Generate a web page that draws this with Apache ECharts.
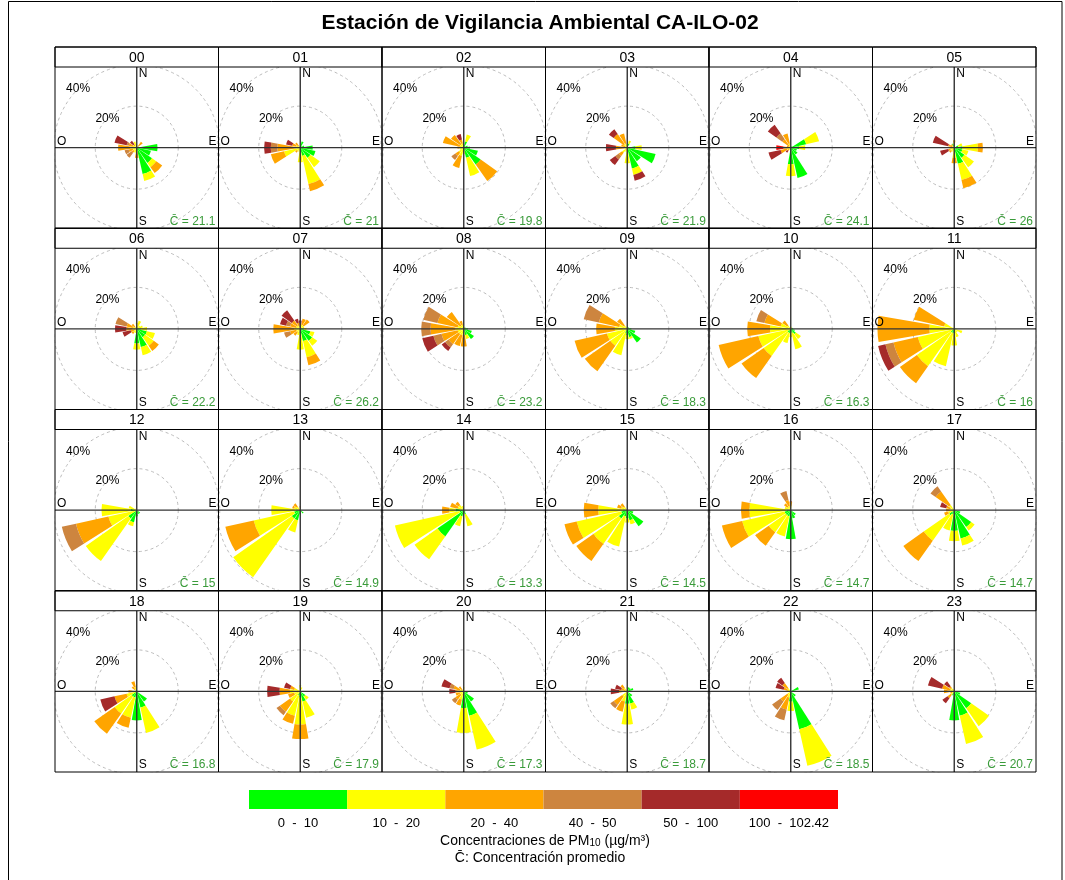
<!DOCTYPE html>
<html><head><meta charset="utf-8">
<script src="https://cdn.jsdelivr.net/npm/echarts@6/dist/echarts.min.js"></script>
<style>html,body{margin:0;padding:0;background:#fff}#c{width:1065px;height:880px}</style>
</head><body><div id="c"></div>
<script>
const directions = ['N','NNE','NE','ENE','E','ESE','SE','SSE','S','SSW','SW','WSW','W','WNW','NW','NNW'];
const binLabels = ['0  -  10','10  -  20','20  -  40','40  -  50','50  -  100','100  -  102.42'];
const binColors = ['#00FF00','#FFFF00','#FFA500','#CD853F','#A52A2A','#FF0000'];
const hourLabels = ['00','01','02','03','04','05','06','07','08','09','10','11','12','13','14','15','16','17','18','19','20','21','22','23'];
const meanConc = [21.1,21,19.8,21.9,24.1,26,22.2,26.2,23.2,18.3,16.3,16,15,14.9,13.3,14.5,14.7,14.7,16.8,17.9,17.3,18.7,18.5,20.7];
const ringTicks = [20,40];
// frequency (%) per direction, stacked by concentration bin [0-10,10-20,20-40,40-50,50-100,100-102.42]
const h00 = [[0,1.5],[0],[0,1,2.5],[1],[10],[7],[9,2.5,3.5],[13,3.5],[0,2,3],[0,2.5],[0,2,1,3],[0,2,2,2],[0,3,6],[0,2,2,1,6],[0,1,1,0,2],[0,3]];
const h01 = [[0],[3],[1],[2],[6],[7.5],[6,5.5],[4,14,3.5],[1,6],[0,2],[0,2,1],[0,8,6.5],[0,2,9,3.2,3.2],[0,2,2,0,3],[0,1,2],[0]];
const h02 = [[1],[3,3.5],[1],[2],[3],[7],[10,0,9.7],[5,9],[0,3],[0,4,6],[0,3,2,2.3],[0,2],[0,2,1],[0,2,8.3],[0,2,5.5],[0,2,2,0,2.7]];
const h03 = [[0],[2,1.5],[0],[0],[4,3],[14],[8],[10.3,3.2,0,0,2.9],[0,7.5],[0,2],[0,3,2,2,3.3],[0,1],[0,1.5,4,0,4.8],[0,1,2],[0,2,6,0,2.8],[0,2,5]];
const h04 = [[0],[0],[1],[7.6,6.4],[4,3],[3],[4],[15],[8,5.8],[0,1],[0,1,1,0,1],[0,2,3,0,6],[0,1.5,2,0,0,3.5],[0,1,1],[0,1,4,3.5,5],[0,2,5]];
const h05 = [[1,0,2.5],[0],[0],[2,2],[4,7.4,2.4],[4,3],[6,5.6],[8,8,4],[0,5,2.5],[0,2],[0,2,1],[0,2,1,0,4],[0,1,1],[0,1,2,0,7.6],[0,1,1],[2]];
const h06 = [[0,3],[0,4],[0,2],[1,2],[2,3],[5,4],[5,5,3],[9,4],[7,3],[0,2],[0,2,1],[0,1,2,0,4],[0,2,3,0,5.5],[0,2,3,5.5],[0,1,2],[0,1]];
const h07 = [[0,1,0,0,3],[0,2,3],[0,2,3.5],[1,1],[2,1],[5,2],[7,3],[6,8,4],[2,8],[0,3],[0,2,2],[0,2,3,3],[0,3,10],[0,2,3,2,3],[0,2,3,0,6],[0,1,2,0,2]];
const h08 = [[0,1],[0,1],[1],[1],[2],[4],[6],[3,2],[0,3,5.5],[0,3,5.5],[0,3,6,2,2],[0,3,8,4,5.5],[0,4,12,4.5],[0,3,10,7],[0,2,8],[0,2,2]];
const h09 = [[0,1],[0],[1],[1],[2],[4],[8],[4,1],[3,2],[2,11],[0,10,15],[0,10,16],[0,6,9],[0,4,10,7.5],[0,2,4],[0,1]];
const h10 = [[0],[0,1],[0],[1],[1],[2],[3,3],[2,8],[1,3],[2,5],[2,14,13],[0,16,19.6],[0,10,11],[0,5,8,4],[0,2,3],[0,1]];
const h11 = [[0],[0],[0],[0],[1],[0,4],[0,2],[1,3],[2,6],[2,16.5],[2,20,10],[0,18,12,4,3.6],[0,12,25],[0,5,15],[0,1],[0]];
const h12 = [[0],[0],[0],[0],[0],[0],[2],[2],[3],[6,2],[5,25],[0,14,16,7],[3,14],[0,4],[0,1],[0]];
const h13 = [[0,0,2],[0],[0],[0],[0],[0],[2],[0],[2],[5,6],[5,34.5],[3,20,14],[2,12],[0,3,1],[0,2,2],[0]];
const h14 = [[0],[0],[0],[0],[0],[0],[1],[2,6],[1],[3,5],[15.5,13.5],[2,32],[4,3,3.5],[0,3,3.7],[0,3,2],[1,1]];
const h15 = [[0],[0],[0],[0],[0],[3],[9.5],[5,2],[4,2],[3,15],[5,15,10],[3,22,6],[2,12,7],[0,3,2],[0,2,2],[0]];
const h16 = [[0,2,2],[0],[0],[0],[0],[0],[3],[4],[14],[3,10],[3,10,8],[3,21,10],[2,18,4],[0,3],[0,2,2],[0,2,3,4.5]];
const h17 = [[0],[0],[0],[0],[0],[3],[10,2],[14,3.5],[10,5],[2,8],[3,15,12],[0,3,2],[0,2,2],[0,2,2,0,3],[0,3,8,3],[0]];
const h18 = [[0],[0],[0],[0],[0],[0],[6],[8,12.5],[14],[3,10,5],[3,10,12],[0,5,6,0,7],[0,2,2],[0],[0,1,2],[0,2,3]];
const h19 = [[0,3],[0,2],[0],[0],[0],[0],[3,2],[5,8],[3,13,7],[2,10,4],[0,6,6,2],[0,3,3],[0,5,5,0,6],[0,3,2,0,3],[0],[0]];
const h20 = [[0,2],[0],[0],[0],[0],[2],[6],[12,16.7],[8,12],[0,4,3],[0,2,3,2],[0,2,2],[0,2,2,0,3],[0,2,3,2,4],[0,1,2],[0]];
const h21 = [[0,2],[2],[2],[3],[0],[0],[3],[6,3],[6,10],[0,5,5],[0,3,5,2],[0],[0,2,2,0,4],[0,1,2,0,3],[0,2,2],[0]];
const h22 = [[0],[0],[0],[4],[1],[0],[3],[18.7,18],[5,4.5],[0,3,6,5.3],[0,2,4,5],[0,1],[0,1,1],[0,1.5,2,0,4],[0,2,3,0,3],[0]];
const h23 = [[0],[0],[0],[0],[0],[3],[10,10.5],[12,14],[14],[2],[0,2,2,0,3],[0,1,1],[0,2,3],[0,2,4,0,7],[0,2,1,0,3],[0,1]];
const hours = [h00,h01,h02,h03,h04,h05,h06,h07,h08,h09,h10,h11,h12,h13,h14,h15,h16,h17,h18,h19,h20,h21,h22,h23];

const FONT = 'Liberation Sans, Arial, sans-serif';
const chart = echarts.init(document.getElementById('c'));
const X0 = 55, Y0 = 47, PW = (1036 - 55) / 6, RH = (772 - 47) / 4, HH = 20, R = 83, RMAX = 40;
const polar = [], angleAxis = [], radiusAxis = [], series = [], graphic = [];

// outer frame and title
graphic.push({type:'rect', shape:{x:8.5, y:1.5, width:1053.5, height:900}, style:{fill:'none', stroke:'#000', lineWidth:1}, z:200, silent:true});
graphic.push({type:'text', x:540, y:23, style:{text:'Estación de Vigilancia Ambiental CA-ILO-02', font:'bold 21px ' + FONT, fill:'#000', align:'center', verticalAlign:'middle'}, z:200});
// masks for outer overflow
graphic.push({type:'rect', shape:{x:X0, y:Y0 + 4*RH + 0.5, width:6*PW, height:12}, style:{fill:'#fff'}, z:90, silent:true});
graphic.push({type:'rect', shape:{x:X0 - 10, y:Y0, width:9.5, height:4*RH}, style:{fill:'#fff'}, z:90, silent:true});
graphic.push({type:'rect', shape:{x:X0 + 6*PW + 0.5, y:Y0, width:10, height:4*RH}, style:{fill:'#fff'}, z:90, silent:true});

hours.forEach((H, i) => {
  const col = i % 6, row = Math.floor(i / 6);
  const left = X0 + col * PW, top = Y0 + row * RH, right = left + PW, bottom = top + RH;
  const cx = left + PW / 2, cy = top + HH + (RH - HH) / 2;
  polar.push({center:[cx, cy], radius:[0, R]});
  angleAxis.push({polarIndex:i, type:'category', data:directions, startAngle:90 + 180 / directions.length, clockwise:true,
    axisLine:{show:false}, axisTick:{show:false}, axisLabel:{show:false}, splitLine:{show:false}, splitArea:{show:false}});
  radiusAxis.push({polarIndex:i, min:0, max:RMAX, interval:20, axisLine:{show:false}, axisTick:{show:false}, axisLabel:{show:false},
    splitLine:{show:true, lineStyle:{color:'#bcbcbc', type:[3,3], width:1}}, splitArea:{show:false}});
  binColors.forEach((c, b) => {
    series.push({type:'bar', coordinateSystem:'polar', polarIndex:i, stack:'s' + i, name:binLabels[b],
      data:H.map(d => d[b] || 0), itemStyle:{color:c}, barCategoryGap:'12%', silent:true, z:2});
  });
  // panel frame and header strip
  graphic.push({type:'rect', shape:{x:left, y:top, width:PW, height:HH}, style:{fill:'#fff', stroke:'#000', lineWidth:1}, z:95, silent:true});
  graphic.push({type:'rect', shape:{x:left, y:top, width:PW, height:RH}, style:{fill:'none', stroke:'#000', lineWidth:1}, z:100, silent:true});
  graphic.push({type:'text', x:cx, y:top + HH / 2 + 1, style:{text:hourLabels[i], font:'14px ' + FONT, fill:'#000', align:'center', verticalAlign:'middle'}, z:101});
  // cross lines
  graphic.push({type:'line', shape:{x1:left, y1:cy, x2:right, y2:cy}, style:{stroke:'#333', lineWidth:1.4}, z:50, silent:true});
  graphic.push({type:'line', shape:{x1:cx, y1:top + HH, x2:cx, y2:bottom}, style:{stroke:'#333', lineWidth:1.4}, z:50, silent:true});
  // compass letters
  const lf = '12px ' + FONT;
  graphic.push({type:'text', x:cx + 2, y:top + HH + 1, style:{text:'N', font:lf, fill:'#000', align:'left', verticalAlign:'top'}, z:60});
  graphic.push({type:'text', x:cx + 2, y:bottom - 1, style:{text:'S', font:lf, fill:'#000', align:'left', verticalAlign:'bottom'}, z:60});
  graphic.push({type:'text', x:left + 2, y:cy, style:{text:'O', font:lf, fill:'#000', align:'left', verticalAlign:'bottom'}, z:60});
  graphic.push({type:'text', x:right - 2, y:cy, style:{text:'E', font:lf, fill:'#000', align:'right', verticalAlign:'bottom'}, z:60});
  // ring labels along NW
  ringTicks.forEach(t => {
    const r = t / RMAX * R * Math.SQRT1_2;
    graphic.push({type:'text', x:cx - r, y:cy - r, style:{text:t + '%', font:lf, fill:'#000', align:'center', verticalAlign:'middle'}, z:60});
  });
  // mean concentration
  graphic.push({type:'text', x:right - 3, y:bottom - 1, style:{text:'C\u0304 = ' + meanConc[i], font:lf, fill:'#3a9b3a', align:'right', verticalAlign:'bottom'}, z:60});
});

// legend colour bar
const LX = 249, LY = 790, LW = (838 - 249) / binColors.length, LH = 19;
binColors.forEach((c, b) => {
  graphic.push({type:'rect', shape:{x:LX + b * LW, y:LY, width:LW, height:LH}, style:{fill:c}, z:100, silent:true});
  graphic.push({type:'text', x:LX + b * LW + LW / 2, y:LY + LH + 14, style:{text:binLabels[b], font:'13px ' + FONT, fill:'#000', align:'center', verticalAlign:'middle'}, z:100});
});
graphic.push({type:'text', x:545, y:841, style:{text:'Concentraciones de PM{s|10} (µg/m³)', font:'14px ' + FONT, fill:'#000', align:'center', verticalAlign:'middle',
  rich:{s:{fontSize:10, fontFamily:FONT, verticalAlign:'bottom', lineHeight:13}}}, z:100});
graphic.push({type:'text', x:540, y:858, style:{text:'C\u0304: Concentración promedio', font:'14px ' + FONT, fill:'#000', align:'center', verticalAlign:'middle'}, z:100});

chart.setOption({animation:false, backgroundColor:'#fff', polar, angleAxis, radiusAxis, series, graphic});
</script></body></html>
